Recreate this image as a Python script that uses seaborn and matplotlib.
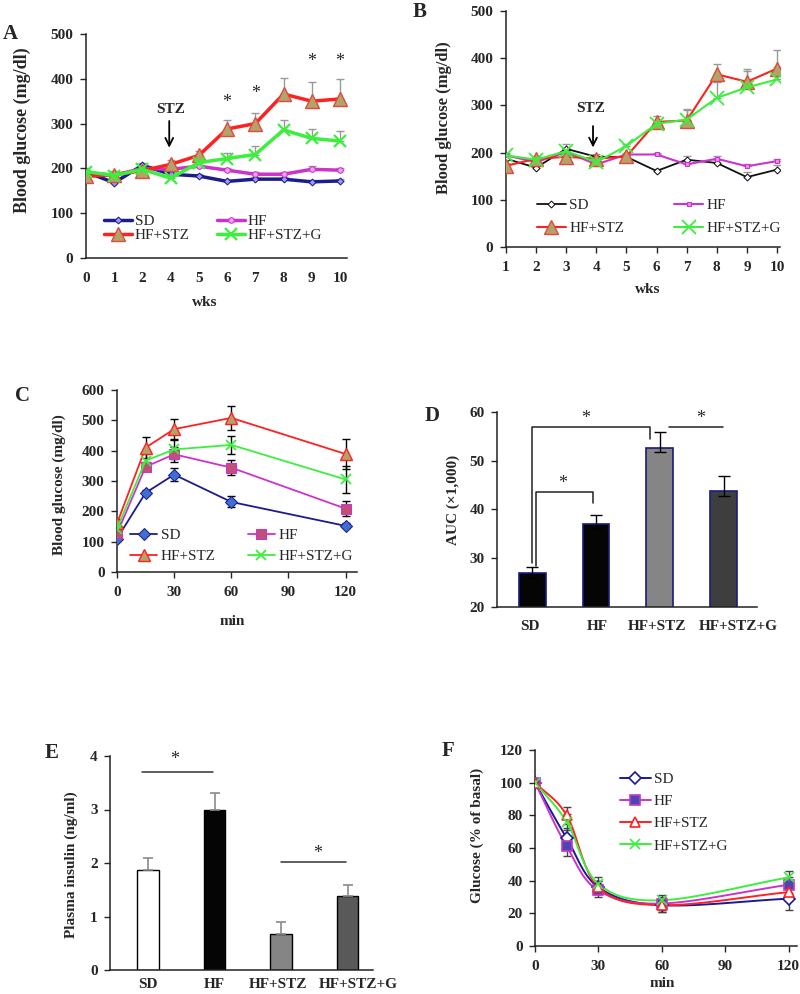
import numpy as np
import pandas as pd
import matplotlib
matplotlib.use("Agg")
import matplotlib.pyplot as plt
import matplotlib.transforms as mtransforms
from matplotlib.lines import Line2D
import seaborn as sns

groups = ["SD", "HF", "HF+STZ", "HF+STZ+G"]

# A: weekly blood glucose
a_weeks = ["0", "1", "2", "4", "5", "6", "7", "8", "9", "10"]
a_sd = [192, 168, 207, 187, 183, 171, 176, 176, 170, 172]
a_sd_err = [5, 4, 5, 4, 4, 4, 4, 4, 4, 4]
a_hf = [190, 185, 200, 198, 205, 196, 187, 187, 198, 196]
a_hf_err = [6, 5, 5, 6, 6, 6, 6, 6, 8, 6]
a_stz = [182, 186, 195, 209, 229, 288, 300, 366, 350, 355]
a_stz_err = [10, 8, 8, 10, 10, 21, 23, 35, 43, 44]
a_g = [193, 184, 198, 178, 213, 222, 231, 286, 267, 261]
a_g_err = [8, 6, 6, 8, 8, 12, 19, 22, 20, 22]
a_star_weeks = ["6", "7", "9", "10"]
a_star_y = [347, 368, 438, 438]

# B: weekly blood glucose (second cohort)
b_weeks = [1, 2, 3, 4, 5, 6, 7, 8, 9, 10]
b_sd = [187, 168, 208, 191, 191, 161, 185, 178, 148, 164]
b_sd_err = [5, 4, 10, 5, 5, 5, 8, 6, 10, 10]
b_hf = [194, 180, 201, 175, 196, 196, 175, 187, 171, 182]
b_hf_err = [4, 4, 5, 4, 4, 4, 4, 5, 4, 5]
b_stz = [172, 187, 191, 187, 192, 265, 268, 366, 350, 378]
b_stz_err = [6, 6, 10, 6, 6, 12, 25, 22, 28, 39]
b_g = [194, 185, 203, 180, 214, 261, 270, 316, 338, 355]
b_g_err = [5, 5, 6, 5, 5, 8, 20, 34, 34, 26]

# C: glucose tolerance
c_min = [0, 15, 30, 60, 120]
c_sd = [110, 261, 321, 231, 152]
c_sd_err = [8, 8, 22, 18, 8]
c_hf = [127, 347, 388, 344, 209]
c_hf_err = [10, 15, 25, 25, 25]
c_stz = [160, 410, 471, 508, 389]
c_stz_err = [15, 35, 33, 40, 50]
c_g = [143, 367, 404, 419, 305]
c_g_err = [12, 30, 30, 30, 45]

# D: AUC
d_auc = [27.0, 37.0, 52.7, 43.7]
d_err_lo = [1.0, 1.0, 1.0, 0.9]
d_err_hi = [1.2, 1.9, 3.1, 3.1]

# E: plasma insulin
e_ins = [1.87, 3.0, 0.68, 1.38]
e_err = [0.23, 0.3, 0.22, 0.2]

# F: insulin tolerance
f_min = [0, 15, 30, 60, 120]
f_sd = [100, 66, 36, 25, 29]
f_sd_err = [1, 6, 4, 4, 7]
f_hf = [100, 61, 34, 26, 37.5]
f_hf_err = [1, 6, 4, 4, 5]
f_stz = [100, 80, 36, 25, 33]
f_stz_err = [1, 5, 4, 4, 4]
f_g = [100, 76, 38, 28, 42]
f_g_err = [1, 5, 4, 3, 4]

sns.set_style("ticks")
plt.rcParams["font.family"] = ["Liberation Serif", "DejaVu Serif"]

NAVY = "#1c1c8c"
MAG = "#cc33cc"
RED = "#ff2020"
GRN = "#3cef3c"
TAN = "#b3a36b"

W, H = 800, 994
fig = plt.figure(figsize=(8, 9.94), dpi=100)


def rect(l, r, t, b):
    return [l / W, 1 - b / H, (r - l) / W, (b - t) / H]


def style_ax(ax, ylim, ystep):
    sns.despine(ax=ax)
    for s in ["left", "bottom"]:
        ax.spines[s].set_linewidth(1.1)
        ax.spines[s].set_color("#222222")
    ax.set_ylim(*ylim)
    ax.set_yticks(np.arange(ylim[0], ylim[1] + 0.01, ystep))
    ax.tick_params(axis="y", length=4, width=1, pad=5, labelsize=11)
    ax.tick_params(axis="x", length=4, width=1, pad=4, labelsize=11)
    for lab in ax.get_xticklabels() + ax.get_yticklabels():
        lab.set_fontweight("bold")


def series(ax, x, y, err, two_sided, ecolor, **kw):
    y = np.asarray(y, float)
    err = np.asarray(err, float)
    lo = err if two_sided else np.zeros_like(err)
    ax.errorbar(x, y, yerr=[lo, err], fmt="none", ecolor=ecolor,
                elinewidth=1, capsize=3, capthick=1, zorder=1)
    sns.lineplot(x=x, y=y, ax=ax, zorder=3, **kw)


def legend2(ax, anchor, spacing, colsp, hl):
    h, l = ax.get_legend_handles_labels()
    order = [0, 2, 1, 3]
    ax.legend([h[i] for i in order], [l[i] for i in order], ncol=2,
              loc="lower left", bbox_to_anchor=anchor, frameon=False,
              borderaxespad=0, borderpad=0, labelspacing=spacing,
              columnspacing=colsp, handlelength=hl, handletextpad=0.2,
              fontsize=11)


def shift_labels(ax, dx_px):
    for lab, dx in zip(ax.get_xticklabels(), dx_px):
        off = mtransforms.ScaledTranslation(dx / 100, 0, fig.dpi_scale_trans)
        lab.set_transform(lab.get_transform() + off)


def panel_letter(x, y, s):
    fig.text(x / W, 1 - y / H, s, fontsize=15, fontweight="bold",
             ha="left", va="center")


# ---------------- A ----------------
ax = fig.add_axes(rect(86, 347, 34, 258))
pos = np.arange(len(a_weeks))
series(ax, pos, a_sd, a_sd_err, False, "#999999", color=NAVY, lw=2.5,
       marker="D", ms=3.5, markerfacecolor="#9999ff", markeredgecolor=NAVY,
       label="SD")
series(ax, pos, a_hf, a_hf_err, False, "#999999", color=MAG, lw=2.5,
       marker="o", ms=4, markerfacecolor="#f0a0f0", markeredgecolor=MAG,
       label="HF")
series(ax, pos, a_stz, a_stz_err, False, "#999999", color=RED, lw=2.5,
       marker="^", ms=10, markerfacecolor=TAN, markeredgecolor="#e04a3a",
       markeredgewidth=1, label="HF+STZ")
series(ax, pos, a_g, a_g_err, False, "#999999", color=GRN, lw=2.5,
       marker="x", ms=9, markeredgecolor=GRN, markeredgewidth=1.6,
       label="HF+STZ+G")
ax.set_xticks(pos)
ax.set_xticklabels(a_weeks)
ax.set_xlim(0, 9.25)
style_ax(ax, (0, 500), 100)
ax.tick_params(axis="x", length=0, pad=10)
for wk, yy in zip(a_star_weeks, a_star_y):
    ax.text(a_weeks.index(wk), yy, "*", ha="center", va="center", fontsize=13)
ax.text(3, 332, "STZ", ha="center", va="center", fontsize=11, fontweight="bold")
ax.annotate("", xy=(2.95, 240), xytext=(2.95, 312),
            arrowprops=dict(arrowstyle="->", lw=1.3, color="black",
                            mutation_scale=14))
ax.set_ylabel("Blood glucose (mg/dl)", fontsize=13, fontweight="bold")
ax.yaxis.set_label_coords(-0.21, 0.57)
ax.set_xlabel("wks", fontsize=11, fontweight="bold")
ax.xaxis.set_label_coords(0.456, -0.17)
legend2(ax, (0.07, 0.07), 0.05, 1.8, 1.8)
panel_letter(3, 34, "A")

# ---------------- B ----------------
ax = fig.add_axes(rect(506, 780, 11, 247))
series(ax, b_weeks, b_sd, b_sd_err, False, "#999999", color="#111111",
       lw=1.3, marker="D", ms=3.5, markerfacecolor="white",
       markeredgecolor="#111111", label="SD")
series(ax, b_weeks, b_hf, b_hf_err, False, "#999999", color=MAG, lw=1.5,
       marker="s", ms=3.5, markerfacecolor="#ee88ee", markeredgecolor=MAG,
       label="HF")
series(ax, b_weeks, b_stz, b_stz_err, False, "#999999", color=RED, lw=1.5,
       marker="^", ms=10, markerfacecolor=TAN, markeredgecolor="#e04a3a",
       markeredgewidth=1, label="HF+STZ")
series(ax, b_weeks, b_g, b_g_err, False, "#999999", color=GRN, lw=1.5,
       marker="x", ms=10, markeredgecolor=GRN, markeredgewidth=1.3,
       label="HF+STZ+G")
ax.set_xticks(b_weeks)
ax.set_xlim(1, 10.1)
style_ax(ax, (0, 500), 100)
ax.tick_params(axis="x", pad=6)
ax.text(3.8, 293, "STZ", ha="center", va="center", fontsize=11, fontweight="bold")
ax.annotate("", xy=(3.89, 205), xytext=(3.89, 262),
            arrowprops=dict(arrowstyle="->", lw=1.3, color="black",
                            mutation_scale=14))
ax.set_ylabel("Blood glucose (mg/dl)", fontsize=12, fontweight="bold")
ax.yaxis.set_label_coords(-0.198, 0.55)
ax.set_xlabel("wks", fontsize=11, fontweight="bold")
ax.xaxis.set_label_coords(0.518, -0.153)
legend2(ax, (0.113, 0.05), 0.6, 3.3, 1.9)
panel_letter(413, 12, "B")

# ---------------- C ----------------
ax = fig.add_axes(rect(117, 357, 390, 572))
series(ax, c_min, c_sd, c_sd_err, True, "black", color=NAVY, lw=1.3,
       marker="D", ms=6.5, markerfacecolor="#3f6fd0", markeredgecolor=NAVY,
       label="SD")
series(ax, c_min, c_hf, c_hf_err, True, "black", color=MAG, lw=1.3,
       marker="s", ms=7, markerfacecolor="#c0507a", markeredgecolor=MAG,
       label="HF")
series(ax, c_min, c_stz, c_stz_err, True, "black", color=RED, lw=1.3,
       marker="^", ms=8, markerfacecolor=TAN, markeredgecolor=RED,
       markeredgewidth=1, label="HF+STZ")
series(ax, c_min, c_g, c_g_err, True, "black", color=GRN, lw=1.3,
       marker="x", ms=7, markeredgecolor=GRN, markeredgewidth=1.3,
       label="HF+STZ+G")
ax.set_xticks([0, 30, 60, 90, 120])
ax.set_xlim(0, 126)
style_ax(ax, (0, 600), 100)
ax.tick_params(axis="x", pad=6)
ax.set_ylabel("Blood glucose (mg/dl)", fontsize=11, fontweight="bold")
ax.yaxis.set_label_coords(-0.213, 0.48)
ax.set_xlabel("min", fontsize=11, fontweight="bold")
ax.xaxis.set_label_coords(0.479, -0.236)
legend2(ax, (0.054, 0.05), 0.45, 2.1, 1.8)
panel_letter(15, 396, "C")

# ---------------- D ----------------
ax = fig.add_axes(rect(497, 757, 412, 607))
d_df = pd.DataFrame({"group": groups, "auc": d_auc})
sns.barplot(data=d_df, x="group", y="auc", hue="group", legend=False,
            palette=["#050505", "#050505", "#858585", "#3e3e3e"],
            width=0.42, edgecolor="#1a1a80", linewidth=1.2, ax=ax)
ax.errorbar(np.arange(4), d_auc, yerr=[d_err_lo, d_err_hi], fmt="none",
            ecolor="black", elinewidth=1, capsize=4, capthick=1, zorder=4)
ax.set_xlim(-0.55, 3.52)
style_ax(ax, (20, 60), 10)
ax.tick_params(axis="x", length=0, pad=9)
shift_labels(ax, [-2, 1, -3, 14])
ax.set_xlabel("")
ax.set_ylabel("AUC (×1,000)", fontsize=11, fontweight="bold")
ax.yaxis.set_label_coords(-0.142, 0.55)
bk = dict(color="#222222", lw=1.1)
ax.plot([0, 0, 1.84, 1.84], [d_auc[0] + 2.0, 56.9, 56.9, 54.5], **bk)
ax.plot([2.14, 2.98], [56.9, 56.9], **bk)
ax.plot([0.06, 0.06, 0.95, 0.95], [d_auc[0] + 1.5, 43.6, 43.6, 41.3], **bk)
ax.text(0.83, 58.6, "*", ha="center", va="center", fontsize=13)
ax.text(2.63, 58.6, "*", ha="center", va="center", fontsize=13)
ax.text(0.47, 45.4, "*", ha="center", va="center", fontsize=13)
panel_letter(425, 416, "D")

# ---------------- E ----------------
ax = fig.add_axes(rect(110, 373, 756, 970))
e_df = pd.DataFrame({"group": groups, "ins": e_ins})
sns.barplot(data=e_df, x="group", y="ins", hue="group", legend=False,
            palette=["white", "#050505", "#858585", "#595959"],
            width=0.32, edgecolor="black", linewidth=1.0, ax=ax)
ax.errorbar(np.arange(4), e_ins, yerr=[np.zeros(4), e_err], fmt="none",
            ecolor="#8a8a8a", elinewidth=1.2, capsize=3.5, capthick=1.2)
ax.set_xlim(-0.57, 3.38)
style_ax(ax, (0, 4), 1)
ax.tick_params(axis="x", length=0, pad=6)
shift_labels(ax, [0, 0, -3, 11])
ax.set_xlabel("")
ax.set_ylabel("Plasma insulin (ng/ml)", fontsize=11, fontweight="bold")
ax.yaxis.set_label_coords(-0.122, 0.49)
ax.plot([-0.09, 0.97], [3.7, 3.7], color="#333333", lw=1.1)
ax.plot([2.0, 2.98], [2.02, 2.02], color="#333333", lw=1.1)
ax.text(0.4, 3.93, "*", ha="center", va="center", fontsize=13)
ax.text(2.55, 2.17, "*", ha="center", va="center", fontsize=13)
panel_letter(45, 753, "E")

# ---------------- F ----------------
ax = fig.add_axes(rect(535, 797, 750, 946))


def smooth(x, y, n=25):
    # Catmull-Rom curve through the points (Excel-style smoothed line)
    x = np.asarray(x, float)
    y = np.asarray(y, float)
    px = np.concatenate([[2 * x[0] - x[1]], x, [2 * x[-1] - x[-2]]])
    py = np.concatenate([[2 * y[0] - y[1]], y, [2 * y[-1] - y[-2]]])
    xs, ys = [], []
    t = np.linspace(0, 1, n)
    for i in range(1, len(px) - 2):
        for p, out in ((px, xs), (py, ys)):
            p0, p1, p2, p3 = p[i - 1], p[i], p[i + 1], p[i + 2]
            c1 = p1 + (p2 - p0) / 6
            c2 = p2 - (p3 - p1) / 6
            out.extend((1 - t) ** 3 * p1 + 3 * (1 - t) ** 2 * t * c1
                       + 3 * (1 - t) * t ** 2 * c2 + t ** 3 * p2)
    return np.array(xs), np.array(ys)


f_styles = [
    (f_sd, f_sd_err, "SD", dict(color="#1a1a99", marker="D", ms=6,
                                markerfacecolor="white", markeredgecolor="#1a1a99")),
    (f_hf, f_hf_err, "HF", dict(color=MAG, marker="s", ms=6.5,
                                markerfacecolor="#4848b0", markeredgecolor=MAG)),
    (f_stz, f_stz_err, "HF+STZ", dict(color=RED, marker="^", ms=7.5,
                                      markerfacecolor="white", markeredgecolor=RED)),
    (f_g, f_g_err, "HF+STZ+G", dict(color=GRN, marker="x", ms=7,
                                    markeredgecolor=GRN)),
]
handles = []
for vals, err, name, st in f_styles:
    ax.errorbar(f_min, vals, yerr=err, fmt="none", ecolor="#444444",
                elinewidth=1, capsize=3, capthick=1, zorder=1)
    sx, sy = smooth(f_min, vals)
    sns.lineplot(x=sx, y=sy, sort=False, estimator=None, ax=ax,
                 color=st["color"], lw=1.4, zorder=2)
    ax.plot(f_min, vals, linestyle="none", markeredgewidth=1.2, zorder=3, **st)
    handles.append(Line2D([], [], lw=1.4, markeredgewidth=1.2, **st))
ax.set_xticks([0, 30, 60, 90, 120])
ax.set_xlim(0, 124)
style_ax(ax, (0, 120), 20)
ax.tick_params(axis="x", pad=6)
ax.legend(handles, groups, loc="upper left", bbox_to_anchor=(0.325, 0.885),
          frameon=False, borderaxespad=0, borderpad=0, labelspacing=0.55,
          handlelength=2.0, handletextpad=0.2, fontsize=11)
ax.set_ylabel("Glucose (% of basal)", fontsize=11, fontweight="bold")
ax.yaxis.set_label_coords(-0.195, 0.566)
ax.set_xlabel("min", fontsize=11, fontweight="bold")
ax.xaxis.set_label_coords(0.485, -0.16)
panel_letter(442, 751, "F")

fig.savefig("out.png", dpi=100)
